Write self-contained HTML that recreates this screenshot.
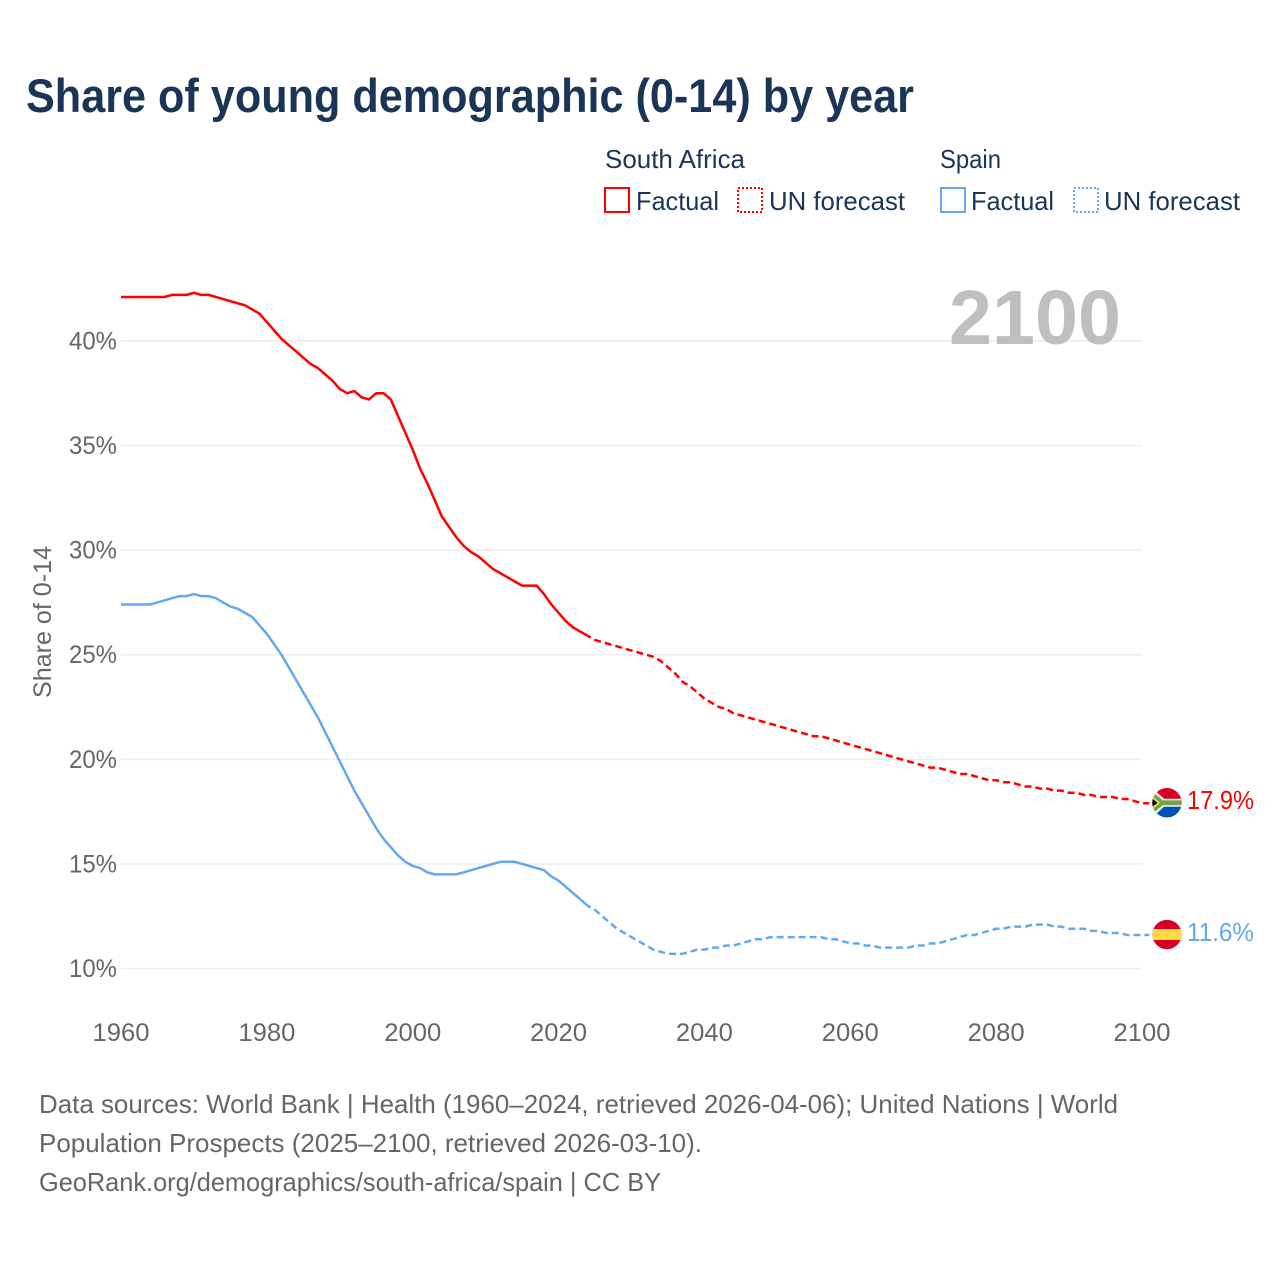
<!DOCTYPE html>
<html lang="en">
<head>
<meta charset="utf-8">
<title>Share of young demographic (0-14) by year</title>
<style>
html,body{margin:0;padding:0;background:#fff;}
svg{display:block;font-family:"Liberation Sans",sans-serif;}
</style>
</head>
<body>
<svg id="chart" xmlns="http://www.w3.org/2000/svg" width="1280" height="1280" viewBox="0 0 1280 1280">
  <defs>
    <clipPath id="flag-clip"><circle cx="0" cy="0" r="14.7"/></clipPath>
  </defs>
  <rect width="1280" height="1280" fill="#fff"/>
  <text x="26" y="112" font-size="47" font-weight="700" fill="#1a3556" textLength="888" lengthAdjust="spacingAndGlyphs">Share of young demographic (0-14) by year</text>

  <g font-size="26" fill="#1a3556">
    <text x="605" y="168" textLength="140" lengthAdjust="spacingAndGlyphs">South Africa</text>
    <rect x="605" y="188" width="24" height="24" fill="none" stroke="#ff0000" stroke-width="2"/>
    <text x="636" y="210" textLength="83" lengthAdjust="spacingAndGlyphs">Factual</text>
    <rect x="738" y="188" width="24" height="24" fill="none" stroke="#ff0000" stroke-width="2" stroke-dasharray="2 2"/>
    <text x="769" y="210" textLength="136" lengthAdjust="spacingAndGlyphs">UN forecast</text>
    <text x="940" y="168" textLength="61" lengthAdjust="spacingAndGlyphs">Spain</text>
    <rect x="941" y="188" width="24" height="24" fill="none" stroke="#64a9f0" stroke-width="2"/>
    <text x="971" y="210" textLength="83" lengthAdjust="spacingAndGlyphs">Factual</text>
    <rect x="1074" y="188" width="24" height="24" fill="none" stroke="#64a9f0" stroke-width="2" stroke-dasharray="2 2"/>
    <text x="1104" y="210" textLength="136" lengthAdjust="spacingAndGlyphs">UN forecast</text>
  </g>

  <g id="grid"></g>

  <text x="949" y="344" font-size="77" font-weight="700" fill="#bfbfbf" textLength="172" lengthAdjust="spacingAndGlyphs">2100</text>

  <g id="y-axis" font-size="25" fill="#666666"></g>
  <g id="x-axis" font-size="25" fill="#666666"></g>
  <text transform="translate(51,622) rotate(-90)" text-anchor="middle" font-size="25" fill="#666666" textLength="152" lengthAdjust="spacingAndGlyphs">Share of 0-14</text>

  <g id="series"></g>

  <g id="flag-south-africa">
    <g clip-path="url(#flag-clip)">
      <rect x="-15" y="-15" width="30" height="15" fill="#d80027"/>
      <rect x="-15" y="0" width="30" height="15" fill="#0052b4"/>
      <path d="M-15 -15 L-3 -4 L15 -4 L15 4 L-3 4 L-15 15 Z" fill="#f0f0f0"/>
      <path d="M-15 -11 L-4 -2.400 L15 -2.400 L15 2.400 L-4 2.400 L-15 11 Z" fill="#6da544"/>
      <path d="M-15 -7 L-7 0 L-15 7 Z" fill="#ffda44"/>
      <path d="M-15 -4.500 L-9.500 0 L-15 4.500 Z" fill="#000"/>
    </g>
  </g>
  <g id="flag-spain">
    <g clip-path="url(#flag-clip)">
      <rect x="-15" y="-15" width="30" height="30" fill="#d80027"/>
      <rect x="-15" y="-5.500" width="30" height="11" fill="#ffda44"/>
    </g>
  </g>

  <g font-size="26" fill="#666666">
    <text x="39" y="1113" textLength="1079" lengthAdjust="spacingAndGlyphs">Data sources: World Bank | Health (1960–2024, retrieved 2026-04-06); United Nations | World</text>
    <text x="39" y="1152" textLength="663" lengthAdjust="spacingAndGlyphs">Population Prospects (2025–2100, retrieved 2026-03-10).</text>
    <text x="39" y="1191" textLength="622" lengthAdjust="spacingAndGlyphs">GeoRank.org/demographics/south-africa/spain | CC BY</text>
  </g>
</svg>
<script>
// Chart data: first year of each array, then one value per year
const factualStartYear = 1960;
const forecastStartYear = 2024;
const yTicks = [10, 15, 20, 25, 30, 35, 40];
const xTicks = [1960, 1980, 2000, 2020, 2040, 2060, 2080, 2100];

const southAfricaFactual = [
  42.1,42.1,42.1,42.1,42.1,42.1,42.1,42.2,42.2,42.2,
  42.3,42.2,42.2,42.1,42.0,41.9,41.8,41.7,41.5,41.3,
  40.9,40.5,40.1,39.8,39.5,39.2,38.9,38.7,38.4,38.1,
  37.7,37.5,37.6,37.3,37.2,37.5,37.5,37.2,36.4,35.6,
  34.8,33.9,33.2,32.4,31.6,31.1,30.6,30.2,29.9,29.7,
  29.4,29.1,28.9,28.7,28.5,28.3,28.3,28.3,27.9,27.4,
  27.0,26.6,26.3,26.1,25.9
];
const southAfricaForecast = [
  25.9,25.7,25.6,25.5,25.4,25.3,25.2,25.1,25.0,24.9,24.7,
  24.4,24.1,23.7,23.5,23.2,22.9,22.7,22.5,22.4,22.2,
  22.1,22.0,21.9,21.8,21.7,21.6,21.5,21.4,21.3,21.2,
  21.1,21.1,21.0,20.9,20.8,20.7,20.6,20.5,20.4,20.3,
  20.2,20.1,20.0,19.9,19.8,19.7,19.6,19.6,19.5,19.4,
  19.3,19.3,19.2,19.1,19.0,19.0,18.9,18.9,18.8,18.7,
  18.7,18.6,18.6,18.5,18.5,18.4,18.4,18.3,18.3,18.2,
  18.2,18.2,18.1,18.1,18.0,17.9
];
const spainFactual = [
  27.4,27.4,27.4,27.4,27.4,27.5,27.6,27.7,27.8,27.8,
  27.9,27.8,27.8,27.7,27.5,27.3,27.2,27.0,26.8,26.4,
  26.0,25.5,25.0,24.4,23.8,23.2,22.6,22.0,21.3,20.6,
  19.9,19.2,18.5,17.9,17.3,16.7,16.2,15.8,15.4,15.1,
  14.9,14.8,14.6,14.5,14.5,14.5,14.5,14.6,14.7,14.8,
  14.9,15.0,15.1,15.1,15.1,15.0,14.9,14.8,14.7,14.4,
  14.2,13.9,13.6,13.3,13.0
];
const spainForecast = [
  13.0,12.8,12.5,12.2,11.9,11.7,11.5,11.3,11.1,10.9,10.8,
  10.7,10.7,10.7,10.8,10.9,10.9,11.0,11.0,11.1,11.1,
  11.2,11.3,11.4,11.4,11.5,11.5,11.5,11.5,11.5,11.5,
  11.5,11.5,11.4,11.4,11.3,11.2,11.2,11.1,11.1,11.0,
  11.0,11.0,11.0,11.0,11.1,11.1,11.2,11.2,11.3,11.4,
  11.5,11.6,11.6,11.7,11.8,11.9,11.9,12.0,12.0,12.0,
  12.1,12.1,12.1,12.0,12.0,11.9,11.9,11.9,11.8,11.8,
  11.7,11.7,11.7,11.6,11.6,11.6
];
const seriesColors = { southAfrica: '#ff0000', spain: '#64a9f0' };

const NS = 'http://www.w3.org/2000/svg';
const xScale = year => 121 + (year - 1960) * (1142 - 121) / 140;
const yScale = value => 968.5 - (value - 10) * 20.92;

function svgEl(tag, attrs, parent) {
  const el = document.createElementNS(NS, tag);
  Object.keys(attrs).forEach(k => el.setAttribute(k, attrs[k]));
  parent.appendChild(el);
  return el;
}
function pathFrom(values, startYear) {
  return values.map((v, i) => (i ? 'L' : 'M') + xScale(startYear + i).toFixed(2) + ' ' + yScale(v).toFixed(2)).join(' ');
}

const grid = document.getElementById('grid');
const yAxis = document.getElementById('y-axis');
const xAxis = document.getElementById('x-axis');
const series = document.getElementById('series');

yTicks.forEach(t => {
  const line = svgEl('line', { x1: xScale(1960), x2: xScale(2100), y1: yScale(t), y2: yScale(t), stroke: '#eeeeee', 'stroke-width': 1.6 }, grid);
  
  
  const label = svgEl('text', { x: 117, y: yScale(t) + 8.5, 'text-anchor': 'end', textLength: 48, lengthAdjust: 'spacingAndGlyphs' }, yAxis);
  
  
  label.textContent = t + '%';
});

xTicks.forEach(t => {
  const label = svgEl('text', { x: xScale(t), y: 1041, 'text-anchor': 'middle', textLength: 57, lengthAdjust: 'spacingAndGlyphs' }, xAxis);
  
  
  label.textContent = t;
});

function drawSeries(key, factual, forecast) {
  const color = seriesColors[key];
  const solid = svgEl('path', { d: pathFrom(factual, factualStartYear), fill: 'none', stroke: color, 'stroke-width': 2.5, 'stroke-linejoin': 'round' }, series);
  
  

  const extended = forecast.concat([forecast[forecast.length - 1]]);
  const dashed = svgEl('path', { d: pathFrom(extended, forecastStartYear), fill: 'none', stroke: color, 'stroke-width': 2.5, 'stroke-dasharray': '7 4', 'stroke-dashoffset': 3.5, 'stroke-linejoin': 'round' }, series);
  
  

  const last = forecast[forecast.length - 1];
  const label = svgEl('text', { x: xScale(2100) + 45, y: yScale(last) + 6, 'font-size': 26, fill: color, textLength: 67, lengthAdjust: 'spacingAndGlyphs' }, series);
  
  
  label.textContent = last.toFixed(1) + '%';
  return last;
}

const saLast = drawSeries('southAfrica', southAfricaFactual, southAfricaForecast);
const esLast = drawSeries('spain', spainFactual, spainForecast);
document.getElementById('flag-south-africa').setAttribute('transform', 'translate(' + (xScale(2100) + 25) + ',' + (yScale(saLast) - 0.5) + ')');
document.getElementById('flag-spain').setAttribute('transform', 'translate(' + (xScale(2100) + 25) + ',' + (yScale(esLast) - 0.5) + ')');
</script>
</body>
</html>
